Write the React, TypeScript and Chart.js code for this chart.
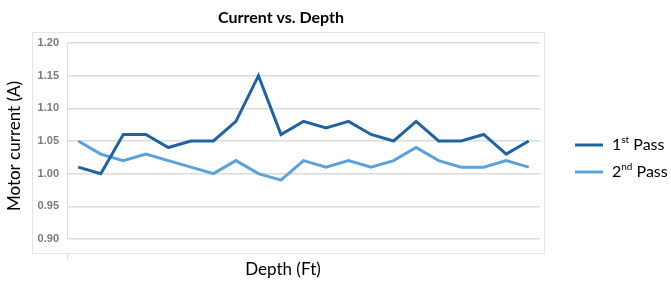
import React, { useEffect, useRef } from 'react';
import { Chart, registerables } from 'chart.js';

Chart.register(...registerables);

const depthPoints = ['1', '2', '3', '4', '5', '6', '7', '8', '9', '10', '11', '12', '13', '14', '15', '16', '17', '18', '19', '20', '21'];
const firstPass = [1.01, 1.0, 1.06, 1.06, 1.04, 1.05, 1.05, 1.08, 1.15, 1.06, 1.08, 1.07, 1.08, 1.06, 1.05, 1.08, 1.05, 1.05, 1.06, 1.03, 1.05];
const secondPass = [1.05, 1.03, 1.02, 1.03, 1.02, 1.01, 1.0, 1.02, 1.0, 0.99, 1.02, 1.01, 1.02, 1.01, 1.02, 1.04, 1.02, 1.01, 1.01, 1.02, 1.01];
const yMin = 0.9;
const yMax = 1.2;
const yStep = 0.05;

const chartTitle = 'Current vs. Depth';
const xTitle = 'Depth (Ft)';
const yTitle = 'Motor current (A)';
const legendItems = [
  { base: '1', sup: 'st', rest: ' Pass', color: '#1F64A0' },
  { base: '2', sup: 'nd', rest: ' Pass', color: '#5CA2DA' },
];

const FONT = 'Lato, "Open Sans", "Liberation Sans", sans-serif';

const decorPlugin = {
  id: 'decor',
  beforeDraw(chart: any) {
    const { ctx } = chart;
    ctx.save();
    ctx.strokeStyle = '#e4e4e4';
    ctx.lineWidth = 1;
    ctx.strokeRect(32.5, 32.5, 512, 221);
    ctx.strokeStyle = '#d9d9d9';
    ctx.beginPath();
    ctx.moveTo(67.5, 253);
    ctx.lineTo(67.5, 259);
    ctx.stroke();
    ctx.restore();
  },
  afterDraw(chart: any) {
    const { ctx } = chart;
    ctx.save();
    ctx.fillStyle = '#000';
    ctx.textBaseline = 'middle';
    ctx.textAlign = 'center';
    ctx.font = `bold 16px ${FONT}`;
    ctx.fillText(chartTitle, 281, 18);
    ctx.font = `17px ${FONT}`;
    ctx.fillText(xTitle, 283, 270);
    ctx.save();
    ctx.translate(15, 146);
    ctx.rotate(-Math.PI / 2);
    ctx.fillText(yTitle, 0, 0);
    ctx.restore();

    ctx.textAlign = 'left';
    legendItems.forEach((item, i) => {
      const y = 145 + i * 27;
      ctx.strokeStyle = item.color;
      ctx.lineWidth = 3;
      ctx.beginPath();
      ctx.moveTo(575, y);
      ctx.lineTo(603, y);
      ctx.stroke();
      let x = 612;
      ctx.font = `16px ${FONT}`;
      ctx.fillText(item.base, x, y);
      x += ctx.measureText(item.base).width;
      ctx.font = `10px ${FONT}`;
      ctx.fillText(item.sup, x, y - 5);
      x += ctx.measureText(item.sup).width;
      ctx.font = `16px ${FONT}`;
      ctx.fillText(item.rest, x, y);
    });
    ctx.restore();
  },
};

export default function App() {
  const ref = useRef<HTMLCanvasElement>(null);
  useEffect(() => {
    if (!ref.current) return;
    const chart = new Chart(ref.current, {
      type: 'line',
      data: {
        labels: depthPoints,
        datasets: [
          {
            label: '1st Pass',
            data: firstPass,
            borderColor: legendItems[0].color,
            backgroundColor: legendItems[0].color,
            borderWidth: 3,
            pointRadius: 0,
            tension: 0,
          },
          {
            label: '2nd Pass',
            data: secondPass,
            borderColor: legendItems[1].color,
            backgroundColor: legendItems[1].color,
            borderWidth: 3,
            pointRadius: 0,
            tension: 0,
          },
        ],
      },
      options: {
        animation: false,
        responsive: false,
        maintainAspectRatio: false,
        layout: { padding: { left: 0, right: 131, top: 43, bottom: 35 } },
        plugins: {
          legend: { display: false },
          title: { display: false },
          tooltip: { enabled: false },
        },
        scales: {
          x: {
            type: 'category',
            offset: true,
            grid: { display: false },
            border: { display: false },
            ticks: { display: false },
          },
          y: {
            min: yMin,
            max: yMax,
            ticks: {
              stepSize: yStep,
              padding: 8,
              color: '#7a7a7a',
              font: { family: '"Liberation Sans", Arial, sans-serif', size: 11, weight: 'bold' },
              callback: (v: any) => Number(v).toFixed(2),
            },
            grid: { color: '#dcdcdc', lineWidth: 1.5, drawTicks: false },
            border: { display: true, color: '#dcdcdc', width: 1 },
            afterFit: (scale: any) => {
              scale.width = 67;
            },
          },
        },
      },
      plugins: [decorPlugin],
    });
    return () => chart.destroy();
  }, []);
  return (
    <div style={{ position: 'fixed', left: 0, top: 0, width: 671, height: 282, background: '#fff' }}>
      <canvas ref={ref} width={671} height={282} style={{ width: 671, height: 282 }} />
    </div>
  );
}
